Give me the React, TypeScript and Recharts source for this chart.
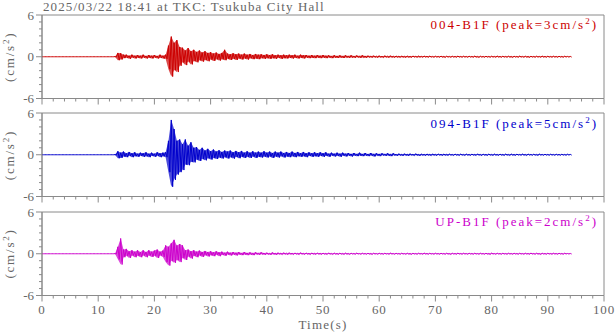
import { ComposedChart, Area, Line, XAxis, YAxis, ReferenceArea } from "recharts";

const BIN = 0.5; // seconds per envelope sample (0 .. 94 s)
const AXIS = "#8a8a8a";
const INK = "#666";
const FONT = '"Liberation Serif", "Times New Roman", serif';

const title = "2025/03/22 18:41 at TKC: Tsukuba City Hall";
const xTicks = Array.from({ length: 51 }, (_, i) => i * 2);
const yTicks = [-6, -5, -4, -3, -2, -1, 0, 1, 2, 3, 4, 5, 6];
const yLabelled = [-6, 0, 6];

// upper / lower envelope of each trace, read every 0.5 s
const ns004Hi = [
  0, 0, 0, 0, 0, 0, 0, 0, 0, 0,
  0, 0, 0, 0, 0, 0, 0, 0, 0, 0,
  0, 0, 0, 0, 0, 0, 0.02, 0.55, 0.5, 0.3,
  0.3, 0.15, 0.3, 0.15, 0.25, 0.15, 0.3, 0.12, 0.25, 0.15,
  0.25, 0.12, 0.3, 0.15, 0.3, 1.6, 2.9, 2.0, 2.4, 1.4,
  1.3, 0.9, 1.25, 0.8, 1.0, 0.7, 0.9, 0.6, 0.8, 0.55,
  0.65, 0.45, 0.6, 0.4, 0.55, 1.0, 0.45, 0.35, 0.5, 0.35,
  0.45, 0.3, 0.45, 0.3, 0.4, 0.25, 0.4, 0.3, 0.35, 0.25,
  0.35, 0.25, 0.35, 0.2, 0.3, 0.2, 0.3, 0.2, 0.3, 0.2,
  0.3, 0.15, 0.3, 0.2, 0.25, 0.15, 0.25, 0.15, 0.25, 0.15,
  0.25, 0.15, 0.2, 0.12, 0.22, 0.12, 0.2, 0.12, 0.2, 0.1,
  0.2, 0.1, 0.18, 0.1, 0.2, 0.1, 0.15, 0.1, 0.15, 0.08,
  0.15, 0.08, 0.15, 0.08, 0.15, 0.08, 0.12, 0.08, 0.12, 0.06,
  0.12, 0.06, 0.12, 0.06, 0.1, 0.06, 0.1, 0.06, 0.1, 0.05,
  0.08, 0.05, 0.1, 0.05, 0.08, 0.05, 0.08, 0.05, 0.1, 0.05,
  0.08, 0.05, 0.08, 0.05, 0.1, 0.05, 0.08, 0.05, 0.08, 0.05,
  0.08, 0.05, 0.1, 0.05, 0.08, 0.05, 0.08, 0.05, 0.08, 0.05,
  0.1, 0.05, 0.08, 0.05, 0.08, 0.05, 0.08, 0.05, 0.1, 0.05,
  0.08, 0.05, 0.08, 0.05, 0.08, 0.05, 0.08, 0.05, 0.05,
];
const ns004Lo = [
  0, 0, 0, 0, 0, 0, 0, 0, 0, 0,
  0, 0, 0, 0, 0, 0, 0, 0, 0, 0,
  0, 0, 0, 0, 0, 0, -0.02, -0.5, -0.4, -0.2,
  -0.15, -0.3, -0.12, -0.25, -0.15, -0.25, -0.12, -0.25, -0.15, -0.25,
  -0.12, -0.25, -0.15, -0.25, -0.3, -1.8, -2.85, -1.9, -2.2, -1.3,
  -0.8, -1.2, -0.7, -1.1, -0.6, -0.8, -0.5, -0.7, -0.45, -0.65,
  -0.4, -0.6, -0.35, -0.55, -0.35, -0.5, -0.3, -0.45, -0.3, -0.45,
  -0.25, -0.4, -0.25, -0.4, -0.2, -0.35, -0.25, -0.35, -0.2, -0.3,
  -0.2, -0.3, -0.2, -0.3, -0.15, -0.3, -0.2, -0.25, -0.15, -0.25,
  -0.15, -0.25, -0.15, -0.25, -0.12, -0.2, -0.15, -0.2, -0.12, -0.2,
  -0.12, -0.2, -0.1, -0.2, -0.12, -0.18, -0.1, -0.18, -0.1, -0.15,
  -0.1, -0.15, -0.08, -0.15, -0.1, -0.15, -0.08, -0.12, -0.08, -0.12,
  -0.08, -0.12, -0.06, -0.12, -0.08, -0.1, -0.06, -0.1, -0.06, -0.1,
  -0.06, -0.1, -0.05, -0.08, -0.06, -0.08, -0.05, -0.08, -0.05, -0.08,
  -0.05, -0.08, -0.05, -0.1, -0.05, -0.08, -0.05, -0.08, -0.05, -0.08,
  -0.05, -0.08, -0.05, -0.08, -0.05, -0.1, -0.05, -0.08, -0.05, -0.08,
  -0.05, -0.08, -0.05, -0.08, -0.05, -0.08, -0.05, -0.1, -0.05, -0.08,
  -0.05, -0.08, -0.05, -0.1, -0.05, -0.08, -0.05, -0.08, -0.05, -0.08,
  -0.05, -0.08, -0.05, -0.08, -0.05, -0.08, -0.05, -0.05, -0.05,
];

const ns094Hi = [
  0, 0, 0, 0, 0, 0, 0, 0, 0, 0,
  0, 0, 0, 0, 0, 0, 0, 0, 0, 0,
  0, 0, 0, 0, 0, 0, 0.02, 0.5, 0.3, 0.45,
  0.2, 0.4, 0.2, 0.35, 0.15, 0.3, 0.2, 0.35, 0.15, 0.3,
  0.15, 0.35, 0.2, 0.3, 0.35, 2.0, 5.0, 3.7, 2.0, 2.2,
  1.5, 2.2, 1.3, 1.8, 1.0, 1.1, 0.7, 1.0, 0.6, 0.85,
  0.5, 0.75, 0.45, 0.65, 0.4, 0.6, 0.45, 0.6, 0.35, 0.55,
  0.35, 0.55, 0.3, 0.5, 0.3, 0.5, 0.3, 0.45, 0.3, 0.5,
  0.3, 0.45, 0.25, 0.45, 0.3, 0.45, 0.25, 0.4, 0.25, 0.45,
  0.25, 0.4, 0.2, 0.4, 0.2, 0.35, 0.2, 0.35, 0.2, 0.35,
  0.2, 0.35, 0.15, 0.3, 0.15, 0.3, 0.15, 0.3, 0.15, 0.25,
  0.12, 0.25, 0.12, 0.3, 0.12, 0.25, 0.1, 0.25, 0.1, 0.2,
  0.1, 0.2, 0.1, 0.2, 0.08, 0.2, 0.08, 0.15, 0.08, 0.15,
  0.08, 0.15, 0.06, 0.15, 0.06, 0.12, 0.06, 0.12, 0.06, 0.12,
  0.06, 0.12, 0.06, 0.1, 0.06, 0.1, 0.05, 0.1, 0.05, 0.1,
  0.05, 0.1, 0.05, 0.1, 0.05, 0.12, 0.05, 0.1, 0.05, 0.1,
  0.05, 0.1, 0.05, 0.1, 0.05, 0.1, 0.05, 0.1, 0.05, 0.1,
  0.05, 0.1, 0.05, 0.1, 0.05, 0.08, 0.05, 0.1, 0.05, 0.08,
  0.05, 0.08, 0.05, 0.08, 0.05, 0.08, 0.05, 0.08, 0.05,
];
const ns094Lo = [
  0, 0, 0, 0, 0, 0, 0, 0, 0, 0,
  0, 0, 0, 0, 0, 0, 0, 0, 0, 0,
  0, 0, 0, 0, 0, 0, -0.02, -0.5, -0.45, -0.25,
  -0.35, -0.15, -0.35, -0.2, -0.3, -0.15, -0.3, -0.2, -0.35, -0.15,
  -0.3, -0.15, -0.35, -0.2, -0.35, -2.5, -4.6, -3.6, -2.85, -2.5,
  -2.2, -1.4, -1.5, -1.0, -1.1, -0.7, -0.9, -0.6, -0.8, -0.5,
  -0.7, -0.45, -0.6, -0.4, -0.55, -0.35, -0.55, -0.35, -0.55, -0.3,
  -0.5, -0.3, -0.45, -0.3, -0.45, -0.25, -0.45, -0.3, -0.4, -0.25,
  -0.4, -0.25, -0.45, -0.25, -0.4, -0.2, -0.4, -0.25, -0.35, -0.2,
  -0.35, -0.2, -0.3, -0.2, -0.35, -0.15, -0.3, -0.2, -0.3, -0.15,
  -0.3, -0.15, -0.3, -0.12, -0.25, -0.15, -0.3, -0.12, -0.25, -0.12,
  -0.25, -0.1, -0.2, -0.12, -0.2, -0.1, -0.2, -0.1, -0.25, -0.1,
  -0.2, -0.08, -0.15, -0.1, -0.2, -0.08, -0.15, -0.08, -0.15, -0.08,
  -0.15, -0.06, -0.12, -0.06, -0.15, -0.06, -0.12, -0.06, -0.12, -0.06,
  -0.12, -0.05, -0.1, -0.06, -0.1, -0.05, -0.1, -0.05, -0.1, -0.05,
  -0.1, -0.05, -0.1, -0.05, -0.1, -0.05, -0.12, -0.05, -0.1, -0.05,
  -0.1, -0.05, -0.1, -0.05, -0.1, -0.05, -0.1, -0.05, -0.1, -0.05,
  -0.08, -0.05, -0.1, -0.05, -0.08, -0.05, -0.1, -0.05, -0.08, -0.05,
  -0.08, -0.05, -0.08, -0.05, -0.08, -0.05, -0.08, -0.05, -0.05,
];

const upHi = [
  0, 0, 0, 0, 0, 0, 0, 0, 0, 0,
  0, 0, 0, 0, 0, 0, 0, 0, 0, 0,
  0, 0, 0, 0, 0, 0, 0.02, 1.0, 2.2, 0.6,
  0.7, 0.35, 0.5, 0.3, 0.5, 0.25, 0.5, 0.25, 0.5, 0.3,
  0.45, 0.6, 0.3, 0.45, 1.2, 1.0, 1.5, 2.0, 1.2, 1.4,
  1.2, 0.5, 0.6, 0.35, 0.5, 0.3, 0.45, 0.25, 0.4, 0.25,
  0.35, 0.2, 0.35, 0.2, 0.3, 0.15, 0.3, 0.15, 0.25, 0.15,
  0.25, 0.12, 0.25, 0.12, 0.2, 0.1, 0.2, 0.1, 0.2, 0.1,
  0.15, 0.08, 0.18, 0.08, 0.15, 0.08, 0.15, 0.08, 0.15, 0.08,
  0.12, 0.06, 0.15, 0.06, 0.12, 0.06, 0.12, 0.06, 0.12, 0.06,
  0.1, 0.05, 0.12, 0.05, 0.1, 0.05, 0.1, 0.05, 0.1, 0.05,
  0.08, 0.04, 0.1, 0.04, 0.08, 0.04, 0.08, 0.04, 0.08, 0.04,
  0.08, 0.04, 0.08, 0.04, 0.1, 0.04, 0.08, 0.04, 0.08, 0.04,
  0.08, 0.04, 0.08, 0.04, 0.08, 0.04, 0.1, 0.04, 0.08, 0.04,
  0.08, 0.04, 0.08, 0.04, 0.08, 0.04, 0.08, 0.04, 0.1, 0.04,
  0.08, 0.04, 0.08, 0.04, 0.08, 0.04, 0.08, 0.04, 0.08, 0.04,
  0.1, 0.04, 0.08, 0.04, 0.08, 0.04, 0.08, 0.04, 0.08, 0.04,
  0.08, 0.04, 0.08, 0.04, 0.1, 0.04, 0.08, 0.04, 0.08, 0.04,
  0.08, 0.04, 0.08, 0.04, 0.08, 0.04, 0.08, 0.04, 0.04,
];
const upLo = [
  0, 0, 0, 0, 0, 0, 0, 0, 0, 0,
  0, 0, 0, 0, 0, 0, 0, 0, 0, 0,
  0, 0, 0, 0, 0, 0, -0.02, -0.8, -1.55, -0.5,
  -0.3, -0.6, -0.25, -0.5, -0.3, -0.5, -0.25, -0.5, -0.25, -0.45,
  -0.3, -0.6, -0.25, -0.45, -1.2, -1.7, -1.0, -1.3, -0.9, -1.2,
  -0.6, -0.9, -0.4, -0.7, -0.3, -0.5, -0.25, -0.45, -0.2, -0.4,
  -0.2, -0.35, -0.15, -0.35, -0.15, -0.3, -0.12, -0.25, -0.12, -0.25,
  -0.1, -0.2, -0.1, -0.2, -0.1, -0.2, -0.08, -0.15, -0.08, -0.15,
  -0.08, -0.15, -0.06, -0.15, -0.06, -0.12, -0.06, -0.12, -0.06, -0.12,
  -0.05, -0.12, -0.05, -0.1, -0.05, -0.12, -0.05, -0.1, -0.05, -0.1,
  -0.05, -0.1, -0.05, -0.1, -0.05, -0.1, -0.05, -0.1, -0.05, -0.1,
  -0.04, -0.08, -0.04, -0.08, -0.04, -0.08, -0.04, -0.1, -0.04, -0.08,
  -0.04, -0.08, -0.04, -0.08, -0.04, -0.08, -0.04, -0.08, -0.04, -0.08,
  -0.04, -0.1, -0.04, -0.08, -0.04, -0.08, -0.04, -0.08, -0.04, -0.08,
  -0.04, -0.08, -0.04, -0.08, -0.04, -0.1, -0.04, -0.08, -0.04, -0.08,
  -0.04, -0.08, -0.04, -0.08, -0.04, -0.08, -0.04, -0.08, -0.04, -0.1,
  -0.04, -0.08, -0.04, -0.08, -0.04, -0.08, -0.04, -0.08, -0.04, -0.08,
  -0.04, -0.08, -0.04, -0.08, -0.04, -0.08, -0.04, -0.1, -0.04, -0.08,
  -0.04, -0.08, -0.04, -0.08, -0.04, -0.08, -0.04, -0.04, -0.04,
];

const channels = [
  { name: "004-B1F", peak: 3, color: "#cc0000", hi: ns004Hi, lo: ns004Lo },
  { name: "094-B1F", peak: 5, color: "#0000cc", hi: ns094Hi, lo: ns094Lo },
  { name: "UP-B1F", peak: 2, color: "#cc00cc", hi: upHi, lo: upLo },
];

// layout
const PLOT_LEFT = 42;
const PLOT_RIGHT = 604;
const PLOT_H = 83.5;
const panelTops = [15, 113.3, 211.7];
const TOP_PAD = 10;

// band: envelope per bin; wiggle: up to the top, then down to the bottom
function toBand(hi: number[], lo: number[]) {
  return hi.map((h, i) => ({ t: i * BIN, band: [lo[i], h] }));
}
function toWiggle(hi: number[], lo: number[]) {
  return hi.flatMap((h, i) => [
    { t: i * BIN, a: h },
    { t: i * BIN + BIN / 2, a: lo[i] },
  ]);
}

const XTick = (props: any) => {
  const { x, y, payload, showLabel } = props;
  const major = payload.value % 10 === 0;
  return (
    <g>
      <line x1={x} x2={x} y1={y} y2={y + (major ? 6 : 3)} stroke={AXIS} />
      {showLabel && major && (
        <text
          x={x}
          y={y + 18}
          textAnchor="middle"
          fill={INK}
          fontSize={13}
          fontFamily={FONT}
          letterSpacing={0.8}
        >
          {payload.value}
        </text>
      )}
    </g>
  );
};

const YTick = (props: any) => {
  const { x, y, payload } = props;
  const major = yLabelled.includes(payload.value);
  return (
    <g>
      <line x1={x} x2={x - (major ? 6 : 3)} y1={y} y2={y} stroke={AXIS} />
      {major && (
        <text
          x={x - 8}
          y={y + 4.5}
          textAnchor="end"
          fill={INK}
          fontSize={13}
          fontFamily={FONT}
        >
          {payload.value}
        </text>
      )}
    </g>
  );
};

function Panel({ index }: { index: number }) {
  const ch = channels[index];
  const last = index === channels.length - 1;
  const xh = last ? 26 : 12;
  return (
    <div style={{ position: "absolute", left: 0, top: panelTops[index] - TOP_PAD }}>
      <ComposedChart
        width={616}
        height={TOP_PAD + PLOT_H + xh}
        margin={{ top: TOP_PAD, right: 616 - PLOT_RIGHT, bottom: 0, left: 2 }}
      >
        <XAxis
          dataKey="t"
          type="number"
          domain={[0, 100]}
          ticks={xTicks}
          interval={0}
          height={xh}
          tickSize={0}
          tickMargin={0}
          tickLine={false}
          axisLine={{ stroke: AXIS }}
          tick={(p: any) => <XTick {...p} showLabel={last} />}
        />
        <YAxis
          type="number"
          domain={[-6, 6]}
          ticks={yTicks}
          interval={0}
          width={PLOT_LEFT - 2}
          tickSize={0}
          tickMargin={0}
          tickLine={false}
          axisLine={{ stroke: AXIS }}
          tick={(p: any) => <YTick {...p} />}
        />
        <ReferenceArea x1={0} x2={100} y1={-6} y2={6} fill="none" stroke={AXIS} />
        <Area
          data={toBand(ch.hi, ch.lo)}
          type="linear"
          dataKey="band"
          stroke="none"
          fill={ch.color}
          fillOpacity={0.7}
          dot={false}
          activeDot={false}
          isAnimationActive={false}
        />
        <Line
          data={toWiggle(ch.hi, ch.lo)}
          type="linear"
          dataKey="a"
          stroke={ch.color}
          strokeWidth={1}
          dot={false}
          activeDot={false}
          isAnimationActive={false}
        />
      </ComposedChart>
    </div>
  );
}

export default function App() {
  const textStyle = { fontFamily: FONT, fontSize: 13, letterSpacing: 2 };
  return (
    <div style={{ position: "absolute", left: 0, top: 0, width: 616, height: 334, background: "#fff" }}>
      {channels.map((_, i) => (
        <Panel key={i} index={i} />
      ))}
      <svg
        width={616}
        height={334}
        style={{ position: "absolute", left: 0, top: 0, pointerEvents: "none" }}
      >
        <text x={43} y={10.5} fill={INK} style={{ ...textStyle, letterSpacing: 1.1 }}>
          {title}
        </text>
        {channels.map((ch, i) => {
          const top = panelTops[i];
          const mid = top + PLOT_H / 2;
          return (
            <g key={ch.name}>
              <text x={598} y={top + 14.3} textAnchor="end" fill={ch.color} style={textStyle}>
                {`${ch.name} (peak=${ch.peak}cm/s`}
                <tspan dy={-5} fontSize={9}>2</tspan>
                <tspan dy={5}>)</tspan>
              </text>
              <text
                transform={`translate(14, ${mid}) rotate(-90)`}
                textAnchor="middle"
                fill={INK}
                style={{ ...textStyle, letterSpacing: 1.8 }}
              >
                (cm/s<tspan dy={-5} fontSize={9}>2</tspan>
                <tspan dy={5}>)</tspan>
              </text>
            </g>
          );
        })}
        <text
          x={(PLOT_LEFT + PLOT_RIGHT) / 2}
          y={329}
          textAnchor="middle"
          fill={INK}
          style={{ ...textStyle, letterSpacing: 1.2 }}
        >
          Time(s)
        </text>
      </svg>
    </div>
  );
}
